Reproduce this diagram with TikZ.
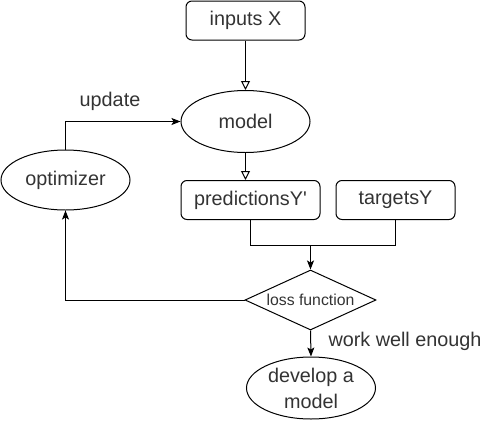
\documentclass[tikz,border=0pt]{standalone}
\usepackage{fontspec}
\setmainfont{Liberation Sans}[Ligatures=TeXOff]
\usetikzlibrary{arrows.meta,shapes.geometric}
\definecolor{txt}{gray}{0.2}
\begin{document}
\begin{tikzpicture}[x=1pt,y=-1pt,line width=1pt,
  big/.style={font=\fontsize{19.8}{26}\selectfont, text=txt},
  box/.style={big, draw, rounded corners=6pt, inner sep=0pt, minimum height=39pt},
  oval/.style={big, draw, ellipse, inner sep=0pt, minimum width=129pt, minimum height=62pt, align=center},
  decision/.style={draw, diamond, aspect=2.2, inner sep=0pt, minimum width=131pt, minimum height=60pt, font=\fontsize{15.8}{19}\selectfont, text=txt},
  openarr/.style={-{Triangle[open,length=9pt,width=9pt]}},
  arr/.style={-{Stealth[length=9pt,width=7pt,inset=2pt]}},
  lbl/.style={big}]
\useasboundingbox (0,0) rectangle (491,421);
\node[box, minimum width=119pt] (inp) at (245.5,20.5) {inputs X};
\node[oval] (model) at (245.5,121.5) {model};
\node[box, minimum width=139pt] (pred) at (250.5,200) {predictionsY'};
\node[box, minimum width=119pt] (targ) at (395.5,200) {targetsY};
\node[decision] (loss) at (310.5,300) {loss function};
\node[oval, minimum height=60pt] (opt) at (65.5,180) {optimizer};
\node[oval] (dev) at (311,388) {develop a\\model};
\coordinate (j) at (310.5,245);
\draw[openarr] (inp.south) -- (model.north);
\draw[openarr] (model.south) -- (model.south |- pred.north);
\draw (pred.south) |- (j);
\draw (targ.south) |- (j);
\draw[arr] (j) -- (loss.north);
\draw[arr] (loss.west) -| (opt.south);
\draw[arr] (opt.north) |- (model.west);
\draw[arr] (loss.south) -- (dev.north);
\node[lbl] (upd) at (110,101) {update};
\node[lbl] (wwe) at (405,341) {work well enough};
\end{tikzpicture}
\end{document}
